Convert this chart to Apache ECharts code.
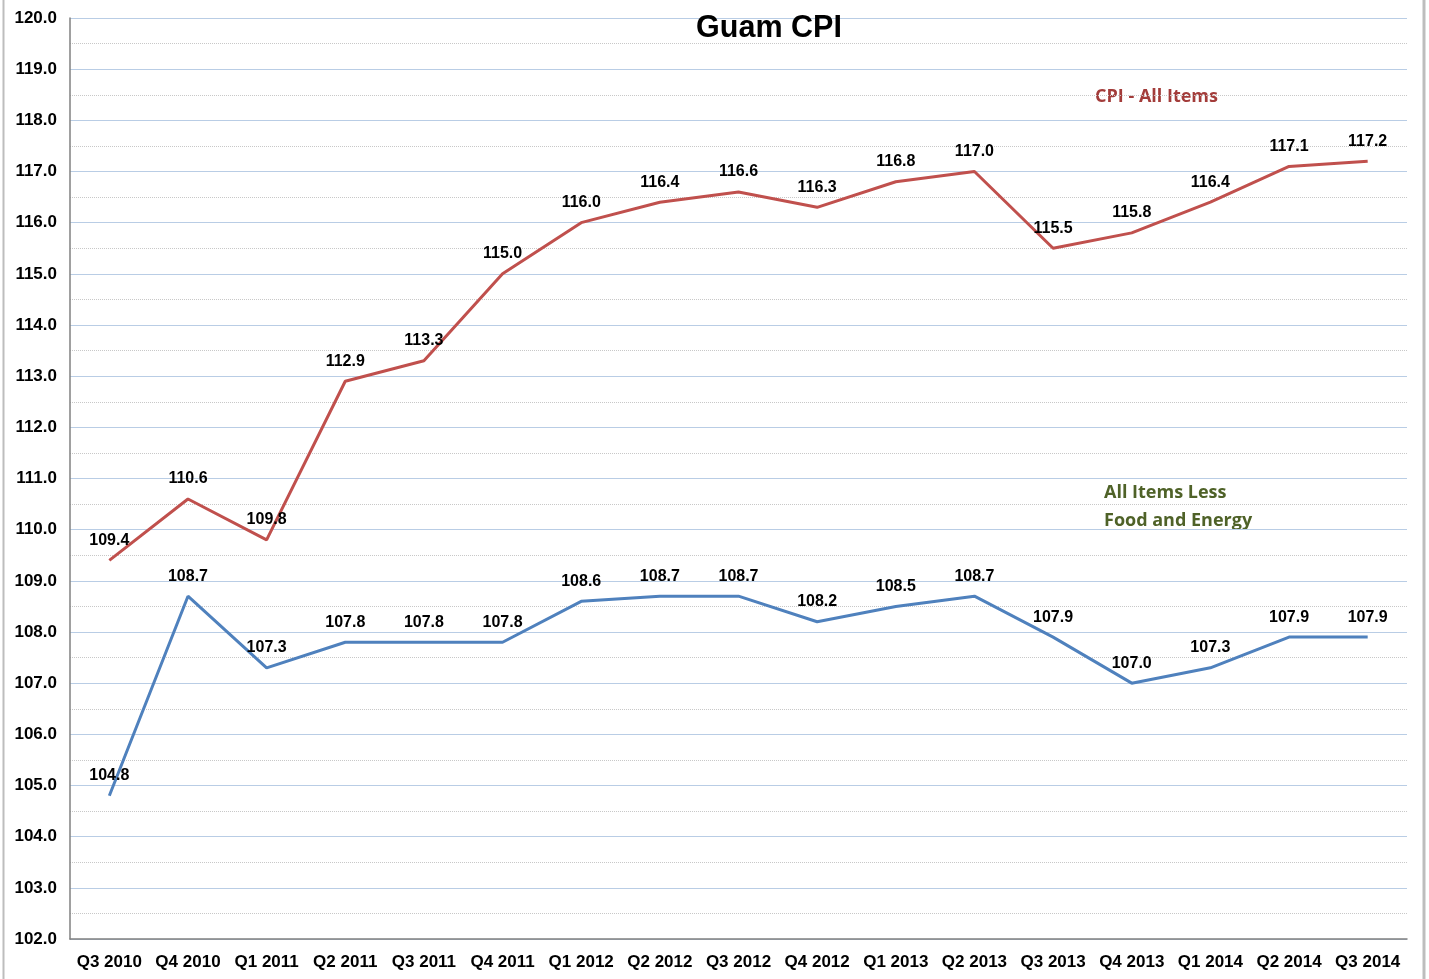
<!DOCTYPE html>
<html>
<head>
<meta charset="utf-8">
<script src="https://cdn.jsdelivr.net/npm/echarts@6/dist/echarts.min.js"></script>
<style>
  html, body { margin: 0; padding: 0; background: #fff; }
  #chart { width: 1429px; height: 979px; }
</style>
</head>
<body>
<div id="chart"></div>
<script>
const quarters = ['Q3 2010', 'Q4 2010', 'Q1 2011', 'Q2 2011', 'Q3 2011', 'Q4 2011', 'Q1 2012', 'Q2 2012',
  'Q3 2012', 'Q4 2012', 'Q1 2013', 'Q2 2013', 'Q3 2013', 'Q4 2013', 'Q1 2014', 'Q2 2014', 'Q3 2014']
const cpiAll = [109.4, 110.6, 109.8, 112.9, 113.3, 115.0, 116.0, 116.4, 116.6, 116.3, 116.8, 117.0, 115.5, 115.8, 116.4, 117.1, 117.2]
const cpiCore = [104.8, 108.7, 107.3, 107.8, 107.8, 107.8, 108.6, 108.7, 108.7, 108.2, 108.5, 108.7, 107.9, 107.0, 107.3, 107.9, 107.9]

const chart = echarts.init(document.getElementById('chart'))

const labelStyle = {
  show: true,
  position: 'top',
  distance: 11,
  color: '#000',
  fontFamily: 'Liberation Sans, Arial',
  fontWeight: 'bold',
  fontSize: 16,
  formatter: p => p.value.toFixed(1)
}

chart.setOption({
  animation: false,
  title: {
    text: 'Guam CPI',
    left: 764,
    top: 8,
    textAlign: 'center',
    textStyle: { fontFamily: 'Liberation Sans, Arial', fontWeight: 'bold', fontSize: 30.5, color: '#000' }
  },
  grid: { left: 70, right: 22, top: 18, bottom: 40 },
  xAxis: {
    type: 'category',
    data: quarters,
    boundaryGap: true,
    axisLine: { lineStyle: { color: '#808080', width: 1.5 } },
    axisTick: { show: false },
    axisLabel: { color: '#000', fontFamily: 'Liberation Sans, Arial', fontWeight: 'bold', fontSize: 17, margin: 15, interval: 0 }
  },
  yAxis: {
    type: 'value',
    min: 102,
    max: 120,
    interval: 1,
    axisLine: { show: true, lineStyle: { color: '#808080', width: 1.5 } },
    axisTick: { show: false },
    axisLabel: { color: '#000', fontFamily: 'Liberation Sans, Arial', fontWeight: 'bold', fontSize: 17, margin: 13, formatter: v => v.toFixed(1) },
    splitLine: { lineStyle: { color: '#b9cde5', width: 1.2 } },
    minorTick: { show: false, splitNumber: 2 },
    minorSplitLine: { show: true, lineStyle: { color: '#c8c8c8', type: [1, 1], width: 1 } }
  },
  graphic: [
    { type: 'line', shape: { x1: 3.5, y1: 0, x2: 3.5, y2: 979 }, style: { stroke: '#bdbdbd', lineWidth: 2 } },
    { type: 'line', shape: { x1: 1424, y1: 0, x2: 1424, y2: 979 }, style: { stroke: '#bdbdbd', lineWidth: 3 } },
    { type: 'text', left: 1095, top: 88, style: { text: 'CPI - All Items', fill: '#a33c3a', font: 'bold 18px "Open Sans", "Noto Sans", sans-serif' } },
    { type: 'text', left: 1104, top: 479, style: { text: 'All Items Less\nFood and Energy', fill: '#4f6228', lineHeight: 28, font: 'bold 18px "Open Sans", "Noto Sans", sans-serif' } }
  ],
  series: [
    {
      name: 'CPI - All Items',
      type: 'line',
      data: cpiAll,
      symbol: 'circle',
      symbolSize: 2,
      showSymbol: true,
      itemStyle: { color: 'rgba(0,0,0,0)' },
      lineStyle: { color: '#c0504d', width: 3 },
      label: labelStyle
    },
    {
      name: 'All Items Less Food and Energy',
      type: 'line',
      data: cpiCore,
      symbol: 'circle',
      symbolSize: 2,
      showSymbol: true,
      itemStyle: { color: 'rgba(0,0,0,0)' },
      lineStyle: { color: '#4f81bd', width: 3 },
      label: labelStyle
    }
  ]
})
</script>
</body>
</html>
